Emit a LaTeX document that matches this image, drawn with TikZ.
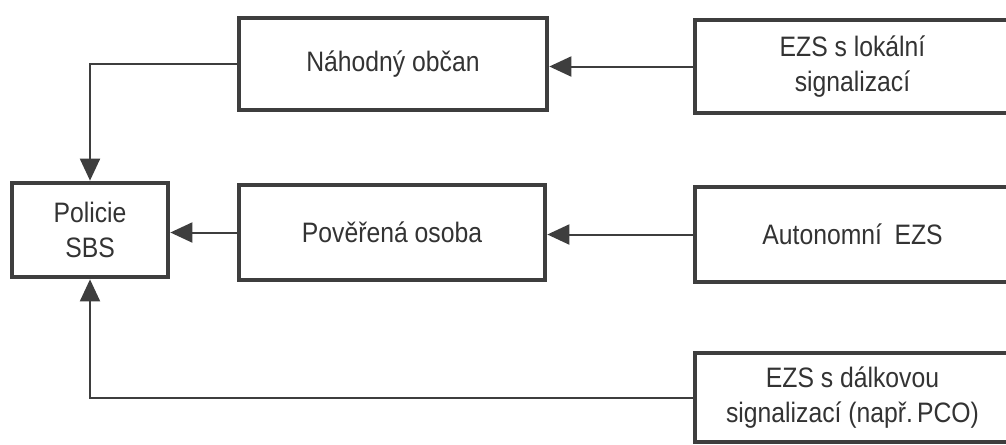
\documentclass[tikz,border=0pt]{standalone}
\usepackage{fontspec}
\setmainfont{Liberation Sans}[FakeStretch=0.88]
\usetikzlibrary{arrows.meta}
\definecolor{ink}{HTML}{3E3E3E}
\definecolor{txt}{HTML}{333333}
\begin{document}
\begin{tikzpicture}[x=0.02cm,y=-0.02cm,
  box/.style={draw=ink, line width=0.095cm, rectangle, inner sep=0pt, align=center,
    text=txt, font=\fontsize{16pt}{19.6pt}\selectfont},
  conn/.style={draw=ink, line width=0.04cm,
    -{Triangle[length=0.44cm,width=0.40cm]}}]
\clip (0,0) rectangle (1006,444);
\fill[white] (0,0) rectangle (1006,444);
% nodes
\node[box, minimum width=6.16cm, minimum height=1.84cm] (nah) at (393,64) {Náhodný občan};
\node[box, minimum width=3.12cm, minimum height=1.88cm] (pol) at (90,230) {Policie\\SBS};
\node[box, minimum width=6.12cm, minimum height=1.90cm] (pov) at (392,232.5) {Pověřená osoba};
\node[box, minimum width=6.30cm, minimum height=1.86cm] (lok) at (852.5,66.5) {EZS s lokální\\signalizací};
\node[box, minimum width=6.30cm, minimum height=1.90cm] (aut) at (852.5,234.5) {Autonomní\hspace{0.2em} EZS};
\node[box, minimum width=6.30cm, minimum height=1.78cm] (dal) at (852.5,397.5) {EZS s dálkovou\\signalizací (např.\kern-0.1em\ PCO)};
% connectors
\draw[conn] (lok.west) -- (lok.west -| nah.east);
\draw[conn] (nah.west) -| (pol.north);
\draw[conn] (pov.west) -- (pov.west -| pol.east);
\draw[conn] (aut.west) -- (aut.west -| pov.east);
\draw[conn] (dal.west) -| (pol.south);
\end{tikzpicture}
\end{document}
